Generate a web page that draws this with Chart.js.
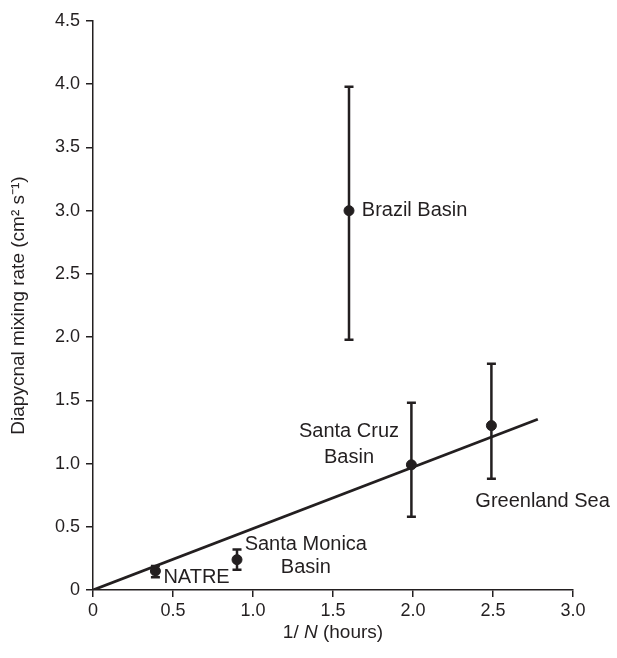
<!DOCTYPE html>
<html>
<head>
<meta charset="utf-8">
<script src="https://cdn.jsdelivr.net/npm/chart.js@4"></script>
<style>
  html, body { margin: 0; padding: 0; background: #fff; }
  #wrap { width: 617px; height: 658px; position: relative; }
</style>
</head>
<body>
<div id="wrap"><canvas id="mixingChart"></canvas></div>
<script>
// Data
const sites = ['NATRE', 'Santa Monica Basin', 'Brazil Basin', 'Santa Cruz Basin', 'Greenland Sea'];
const invN = [0.39, 0.90, 1.60, 1.99, 2.49];
const mixRate = [0.15, 0.24, 3.00, 0.99, 1.30];
const errLow = [0.10, 0.16, 1.98, 0.58, 0.88];
const errHigh = [0.19, 0.32, 3.98, 1.48, 1.79];

// fitted line endpoints
const fitX = [0, 2.78];
const fitY = [0, 1.35];

const xTicks = [0, 0.5, 1.0, 1.5, 2.0, 2.5, 3.0];
const yTicks = [0, 0.5, 1.0, 1.5, 2.0, 2.5, 3.0, 3.5, 4.0, 4.5];

// text labels, anchored in data units
const labelLines = [
    { text: 'Brazil Basin', x: 1.68, y: 3.0, align: 'left' },
    { text: 'Santa Cruz', x: 1.6, y: 1.25, align: 'center' },
    { text: 'Basin', x: 1.6, y: 1.05, align: 'center' },
    { text: 'Greenland Sea', x: 2.81, y: 0.70, align: 'center' },
    { text: 'Santa Monica', x: 1.33, y: 0.36, align: 'center' },
    { text: 'Basin', x: 1.33, y: 0.18, align: 'center' },
    { text: 'NATRE', x: 0.44, y: 0.10, align: 'left' }
];

const ink = '#231f20';
const fontFamily = '"Liberation Sans", Arial, sans-serif';

// error bars with caps
const errorBarPlugin = {
    id: 'errorBars',
    afterDatasetsDraw(chart) {
        const ctx = chart.ctx;
        const xs = chart.scales.x;
        const ys = chart.scales.y;
        ctx.save();
        ctx.strokeStyle = ink;
        ctx.lineWidth = 2.5;
        invN.forEach((xv, i) => {
            const px = xs.getPixelForValue(xv);
            const top = ys.getPixelForValue(errHigh[i]);
            const bot = ys.getPixelForValue(errLow[i]);
            ctx.beginPath();
            ctx.moveTo(px, top);
            ctx.lineTo(px, bot);
            ctx.moveTo(px - 4.5, top);
            ctx.lineTo(px + 4.5, top);
            ctx.moveTo(px - 4.5, bot);
            ctx.lineTo(px + 4.5, bot);
            ctx.stroke();
        });
        ctx.restore();
    }
};

// site names and axis titles
const textPlugin = {
    id: 'siteText',
    afterDraw(chart) {
        const ctx = chart.ctx;
        const xs = chart.scales.x;
        const ys = chart.scales.y;
        ctx.save();
        ctx.fillStyle = ink;
        ctx.font = '20px ' + fontFamily;
        ctx.textBaseline = 'middle';
        labelLines.forEach(l => {
            ctx.textAlign = l.align;
            ctx.fillText(l.text, xs.getPixelForValue(l.x), ys.getPixelForValue(l.y));
        });

        // x title with italic N
        const area = chart.chartArea;
        const cx = (area.left + area.right) / 2;
        const ty = 633;
        const p1 = '1/ ';
        const p2 = 'N';
        const p3 = ' (hours)';
        const normal = '19px ' + fontFamily;
        const italic = 'italic 19px ' + fontFamily;
        ctx.font = normal;
        const w1 = ctx.measureText(p1).width;
        const w3 = ctx.measureText(p3).width;
        ctx.font = italic;
        const w2 = ctx.measureText(p2).width;
        let sx = cx - (w1 + w2 + w3) / 2;
        ctx.textAlign = 'left';
        ctx.font = normal;
        ctx.fillText(p1, sx, ty);
        ctx.font = italic;
        ctx.fillText(p2, sx + w1, ty);
        ctx.font = normal;
        ctx.fillText(p3, sx + w1 + w2, ty);

        // y title
        ctx.translate(19, (area.top + area.bottom) / 2);
        ctx.rotate(-Math.PI / 2);
        ctx.textAlign = 'center';
        ctx.font = normal;
        ctx.fillText('Diapycnal mixing rate (cm\u00B2 s\u207B\u00B9)', 0, 0);
        ctx.restore();
    }
};

const ctx = document.getElementById('mixingChart');
new Chart(ctx, {
    type: 'scatter',
    data: {
        datasets: [
            {
                type: 'line',
                label: 'fit',
                data: fitX.map((x, i) => ({ x: x, y: fitY[i] })),
                borderColor: ink,
                borderWidth: 2.8,
                pointRadius: 0,
                fill: false,
                order: 2
            },
            {
                label: 'sites',
                data: invN.map((x, i) => ({ x: x, y: mixRate[i] })),
                backgroundColor: ink,
                borderColor: ink,
                pointRadius: 5,
                pointHoverRadius: 5,
                order: 1
            }
        ]
    },
    options: {
        responsive: true,
        maintainAspectRatio: false,
        animation: false,
        layout: { padding: { top: 21, right: 44, left: 0, bottom: 0 } },
        plugins: {
            legend: { display: false },
            tooltip: { enabled: false }
        },
        scales: {
            x: {
                type: 'linear',
                min: 0,
                max: 3,
                afterBuildTicks: axis => { axis.ticks = xTicks.map(v => ({ value: v })); },
                afterFit: axis => { axis.height = 68; },
                border: { display: true, color: ink, width: 1.5 },
                grid: { drawOnChartArea: false, drawTicks: true, tickLength: 7, color: ink, lineWidth: 1.5 },
                ticks: {
                    color: ink,
                    padding: 3,
                    font: { family: fontFamily, size: 18 },
                    callback: v => v === 0 ? '0' : v.toFixed(1)
                }
            },
            y: {
                type: 'linear',
                min: 0,
                max: 4.5,
                afterBuildTicks: axis => { axis.ticks = yTicks.map(v => ({ value: v })); },
                afterFit: axis => { axis.width = 93; },
                border: { display: true, color: ink, width: 1.5 },
                grid: { drawOnChartArea: false, drawTicks: true, tickLength: 7, color: ink, lineWidth: 1.5 },
                ticks: {
                    color: ink,
                    padding: 6,
                    font: { family: fontFamily, size: 18 },
                    callback: v => v === 0 ? '0' : v.toFixed(1)
                }
            }
        }
    },
    plugins: [errorBarPlugin, textPlugin]
});
</script>
</body>
</html>
